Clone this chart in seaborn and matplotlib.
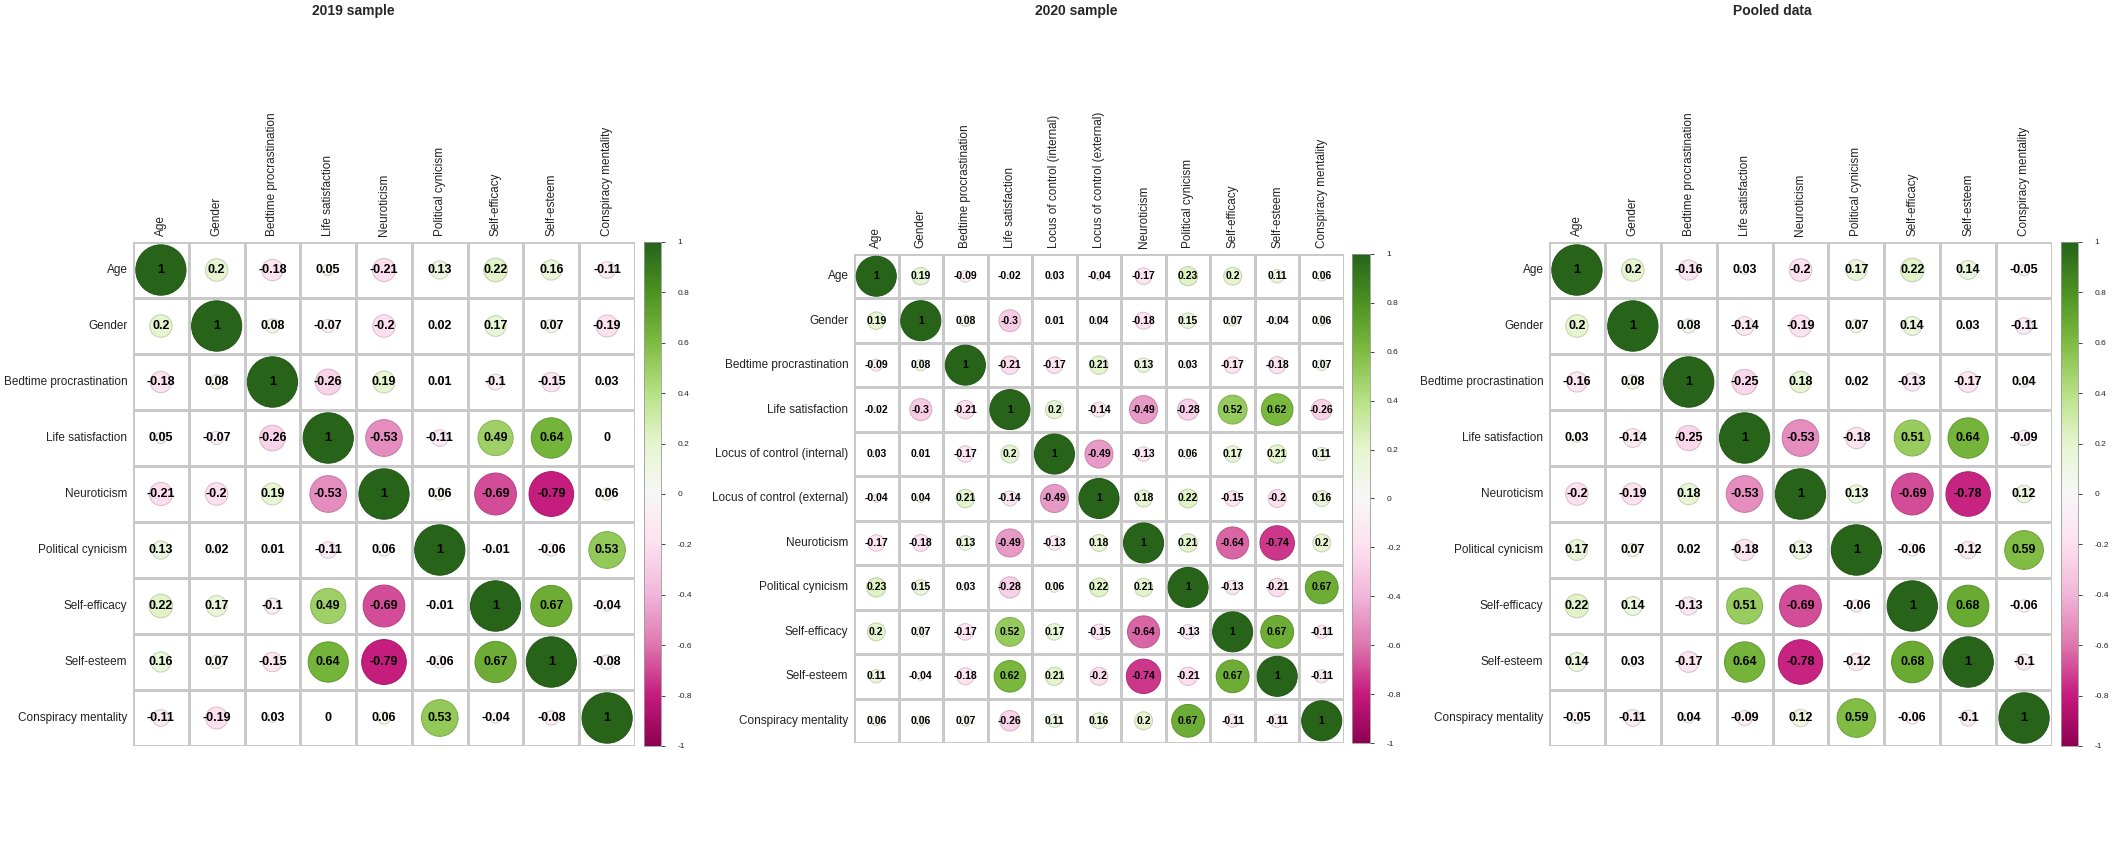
import numpy as np
import pandas as pd
import seaborn as sns
import matplotlib
matplotlib.use("Agg")
import matplotlib.pyplot as plt
from matplotlib.colors import ListedColormap, Normalize
from matplotlib.patches import Circle
import matplotlib.colorbar as mcolorbar


# variables in each sample
vars_short = ['Age', 'Gender', 'Bedtime procrastination', 'Life satisfaction',
              'Neuroticism', 'Political cynicism', 'Self-efficacy', 'Self-esteem',
              'Conspiracy mentality']
vars_2020 = ['Age', 'Gender', 'Bedtime procrastination', 'Life satisfaction',
             'Locus of control (internal)', 'Locus of control (external)',
             'Neuroticism', 'Political cynicism', 'Self-efficacy', 'Self-esteem',
             'Conspiracy mentality']

# correlation matrices
corr_2019 = [
    [1, 0.2, -0.18, 0.05, -0.21, 0.13, 0.22, 0.16, -0.11],
    [0.2, 1, 0.08, -0.07, -0.2, 0.02, 0.17, 0.07, -0.19],
    [-0.18, 0.08, 1, -0.26, 0.19, 0.01, -0.1, -0.15, 0.03],
    [0.05, -0.07, -0.26, 1, -0.53, -0.11, 0.49, 0.64, 0],
    [-0.21, -0.2, 0.19, -0.53, 1, 0.06, -0.69, -0.79, 0.06],
    [0.13, 0.02, 0.01, -0.11, 0.06, 1, -0.01, -0.06, 0.53],
    [0.22, 0.17, -0.1, 0.49, -0.69, -0.01, 1, 0.67, -0.04],
    [0.16, 0.07, -0.15, 0.64, -0.79, -0.06, 0.67, 1, -0.08],
    [-0.11, -0.19, 0.03, 0, 0.06, 0.53, -0.04, -0.08, 1],
]

corr_2020 = [
    [1, 0.19, -0.09, -0.02, 0.03, -0.04, -0.17, 0.23, 0.2, 0.11, 0.06],
    [0.19, 1, 0.08, -0.3, 0.01, 0.04, -0.18, 0.15, 0.07, -0.04, 0.06],
    [-0.09, 0.08, 1, -0.21, -0.17, 0.21, 0.13, 0.03, -0.17, -0.18, 0.07],
    [-0.02, -0.3, -0.21, 1, 0.2, -0.14, -0.49, -0.28, 0.52, 0.62, -0.26],
    [0.03, 0.01, -0.17, 0.2, 1, -0.49, -0.13, 0.06, 0.17, 0.21, 0.11],
    [-0.04, 0.04, 0.21, -0.14, -0.49, 1, 0.18, 0.22, -0.15, -0.2, 0.16],
    [-0.17, -0.18, 0.13, -0.49, -0.13, 0.18, 1, 0.21, -0.64, -0.74, 0.2],
    [0.23, 0.15, 0.03, -0.28, 0.06, 0.22, 0.21, 1, -0.13, -0.21, 0.67],
    [0.2, 0.07, -0.17, 0.52, 0.17, -0.15, -0.64, -0.13, 1, 0.67, -0.11],
    [0.11, -0.04, -0.18, 0.62, 0.21, -0.2, -0.74, -0.21, 0.67, 1, -0.11],
    [0.06, 0.06, 0.07, -0.26, 0.11, 0.16, 0.2, 0.67, -0.11, -0.11, 1],
]

corr_pooled = [
    [1, 0.2, -0.16, 0.03, -0.2, 0.17, 0.22, 0.14, -0.05],
    [0.2, 1, 0.08, -0.14, -0.19, 0.07, 0.14, 0.03, -0.11],
    [-0.16, 0.08, 1, -0.25, 0.18, 0.02, -0.13, -0.17, 0.04],
    [0.03, -0.14, -0.25, 1, -0.53, -0.18, 0.51, 0.64, -0.09],
    [-0.2, -0.19, 0.18, -0.53, 1, 0.13, -0.69, -0.78, 0.12],
    [0.17, 0.07, 0.02, -0.18, 0.13, 1, -0.06, -0.12, 0.59],
    [0.22, 0.14, -0.13, 0.51, -0.69, -0.06, 1, 0.68, -0.06],
    [0.14, 0.03, -0.17, 0.64, -0.78, -0.12, 0.68, 1, -0.1],
    [-0.05, -0.11, 0.04, -0.09, 0.12, 0.59, -0.06, -0.1, 1],
]

titles = ['2019 sample', '2020 sample', 'Pooled data']
cbar_ticks = [-1, -0.8, -0.6, -0.4, -0.2, 0, 0.2, 0.4, 0.6, 0.8, 1]

sns.set_style('white')
plt.rcParams['font.family'] = ['Liberation Sans', 'DejaVu Sans']

W, H = 2126, 851
cmap = plt.get_cmap('PiYG')
norm = Normalize(-1, 1)


def px_rect(x0, y0, x1, y1):
    # pixel box -> figure fraction [left, bottom, width, height]
    return [x0 / W, 1 - y1 / H, (x1 - x0) / W, (y1 - y0) / H]


def draw_corrplot(fig, values, names, title, grid_box, cbar_box, title_x, num_size):
    df = pd.DataFrame(values, index=names, columns=names)
    labels = df.map(lambda v: f'{v:g}')

    ax = fig.add_axes(px_rect(*grid_box))
    sns.heatmap(df, ax=ax, cmap=ListedColormap(['white']), cbar=False,
                linewidths=1.0, linecolor='#c9c9c9',
                annot=labels.values, fmt='',
                annot_kws={'fontsize': num_size, 'fontweight': 'bold', 'color': 'black'})

    # circles: area proportional to |r|
    n = len(names)
    for i in range(n):
        for j in range(n):
            r = df.iloc[i, j]
            if r == 0:
                continue
            col = cmap(norm(r))
            edge = tuple(c * 0.85 for c in col[:3])
            ax.add_patch(Circle((j + 0.5, i + 0.5), 0.45 * np.sqrt(abs(r)),
                                facecolor=col, edgecolor=edge, lw=0.7, zorder=2))

    ax.xaxis.tick_top()
    ax.set_xticklabels(names, rotation=90, fontsize=8.5, color='#222222')
    ax.set_yticklabels(names, rotation=0, fontsize=8.5, color='#222222')
    ax.tick_params(length=0, pad=4)
    ax.set_xlabel('')
    ax.set_ylabel('')

    cax = fig.add_axes(px_rect(*cbar_box))
    cb = mcolorbar.ColorbarBase(cax, cmap=cmap, norm=norm, ticks=cbar_ticks)
    cb.outline.set_edgecolor('#9a9a9a')
    cb.outline.set_linewidth(0.6)
    cax.set_yticklabels([f'{t:g}' for t in cbar_ticks])
    cax.tick_params(labelsize=6, length=3, width=0.6, pad=9, colors='#222222')

    fig.text(title_x / W, 1 - 11 / H, title, ha='center', va='center',
             fontsize=10, fontweight='bold')


fig = plt.figure(figsize=(W / 100, H / 100), dpi=100)

draw_corrplot(fig, corr_2019, vars_short, titles[0],
              (133, 242, 635, 746), (644, 242, 661, 746), 353, 9)
draw_corrplot(fig, corr_2020, vars_2020, titles[1],
              (854, 254, 1344, 743), (1352, 254, 1370, 743), 1076, 7.5)
draw_corrplot(fig, corr_pooled, vars_short, titles[2],
              (1549, 242, 2052, 746), (2061, 242, 2078, 746), 1772, 9)

fig.savefig('out.png', dpi=100, facecolor='white')
